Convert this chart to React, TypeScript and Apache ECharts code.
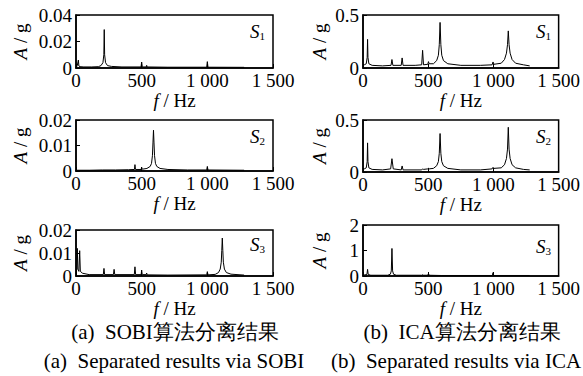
import React, { useEffect, useRef } from "react";
import * as echarts from "echarts";

// ---- data: [frequency Hz, amplitude g] ----
const sobiS1: number[][] = [
  [0, 0.0005], [5, 0.001], [10, 0.002], [18, 0.006], [22, 0.0015], [30, 0.001], [60, 0.0008], [120, 0.0008],
  [170, 0.001], [190, 0.0018], [205, 0.004], [212, 0.01], [215, 0.029], [218, 0.01], [225, 0.004], [240, 0.0018],
  [270, 0.0012], [350, 0.0008], [495, 0.0008], [500, 0.0045], [505, 0.0008], [535, 0.0008], [538, 0.002],
  [541, 0.0008], [700, 0.0006], [995, 0.0006], [1000, 0.0048], [1005, 0.0006], [1280, 0.0005],
];
const sobiS2: number[][] = [
  [0, 0.0003], [100, 0.0003], [200, 0.0004], [300, 0.0004], [400, 0.0005], [445, 0.0006], [449, 0.0025],
  [453, 0.0006], [496, 0.0006], [500, 0.0015], [504, 0.0007], [540, 0.001], [565, 0.0018], [575, 0.003],
  [582, 0.006], [586, 0.011], [590, 0.016], [594, 0.011], [598, 0.006], [605, 0.003], [615, 0.0018],
  [640, 0.001], [700, 0.0006], [850, 0.0004], [995, 0.0004], [1000, 0.0018], [1005, 0.0004], [1280, 0.0003],
];
const sobiS3: number[][] = [
  [0, 0.001], [6, 0.003], [10, 0.012], [14, 0.003], [22, 0.002], [28, 0.011], [33, 0.002], [50, 0.0012],
  [100, 0.0006], [208, 0.0006], [213, 0.0033], [218, 0.0006], [285, 0.0006], [290, 0.0029], [295, 0.0006],
  [444, 0.0006], [449, 0.004], [454, 0.0006], [496, 0.0006], [500, 0.0026], [504, 0.0006], [535, 0.0006],
  [538, 0.0013], [541, 0.0005], [700, 0.0004], [995, 0.0005], [1000, 0.0019], [1005, 0.0005], [1060, 0.0007],
  [1085, 0.0015], [1098, 0.003], [1106, 0.006], [1110, 0.011], [1114, 0.0165], [1118, 0.011], [1122, 0.006],
  [1130, 0.003], [1145, 0.0015], [1180, 0.0008], [1280, 0.0004],
];
const icaS1: number[][] = [
  [0, 0.02], [10, 0.03], [25, 0.04], [32, 0.1], [35, 0.27], [38, 0.1], [45, 0.04], [70, 0.025], [150, 0.02],
  [215, 0.025], [222, 0.08], [229, 0.025], [293, 0.025], [300, 0.095], [307, 0.025], [400, 0.025], [450, 0.03],
  [457, 0.167], [464, 0.03], [497, 0.035], [502, 0.06], [507, 0.04], [540, 0.04], [565, 0.07], [578, 0.12],
  [585, 0.22], [591, 0.43], [597, 0.22], [604, 0.12], [617, 0.07], [650, 0.04], [750, 0.025], [900, 0.025],
  [990, 0.03], [997, 0.057], [1004, 0.035], [1060, 0.045], [1085, 0.08], [1100, 0.14], [1108, 0.22],
  [1114, 0.35], [1120, 0.22], [1128, 0.14], [1143, 0.08], [1170, 0.045], [1230, 0.03], [1278, 0.02],
];
const icaS2: number[][] = [
  [0, 0.02], [10, 0.03], [25, 0.04], [32, 0.1], [35, 0.28], [38, 0.1], [45, 0.04], [70, 0.025], [150, 0.02],
  [212, 0.03], [222, 0.128], [232, 0.03], [293, 0.02], [300, 0.058], [307, 0.02], [450, 0.02], [457, 0.03],
  [464, 0.025], [497, 0.03], [502, 0.035], [507, 0.03], [540, 0.035], [565, 0.06], [578, 0.1], [585, 0.18],
  [591, 0.37], [597, 0.18], [604, 0.1], [617, 0.06], [650, 0.035], [750, 0.02], [900, 0.02], [990, 0.03],
  [997, 0.045], [1004, 0.035], [1060, 0.04], [1085, 0.07], [1100, 0.13], [1108, 0.22], [1114, 0.43],
  [1120, 0.22], [1128, 0.13], [1143, 0.07], [1170, 0.04], [1230, 0.025], [1278, 0.02],
];
const icaS3: number[][] = [
  [0, 0.03], [30, 0.06], [35, 0.26], [40, 0.06], [60, 0.03], [190, 0.03], [210, 0.07], [217, 0.2], [222, 1.08],
  [227, 0.2], [234, 0.07], [255, 0.03], [450, 0.03], [455, 0.05], [460, 0.03], [497, 0.03], [502, 0.1],
  [507, 0.03], [600, 0.02], [992, 0.02], [997, 0.13], [1002, 0.02], [1278, 0.02],
];

const sobiSeries = [sobiS1, sobiS2, sobiS3];
const icaSeries = [icaS1, icaS2, icaS3];
const sobiYMax = [0.04, 0.02, 0.02];
const sobiYInterval = [0.02, 0.01, 0.01];
const icaYMax = [0.5, 0.5, 2];
const icaYInterval = [0.5, 0.5, 1];
const xMax = 1500;
const xInterval = 500;
const sourceLabels = ["1", "2", "3"];
const captionZh = ["(a)  SOBI算法分离结果", "(b)  ICA算法分离结果"];
const captionEn = ["(a)  Separated results via SOBI", "(b)  Separated results via ICA"];

const FONT = "Liberation Serif, Times New Roman, Tinos, DejaVu Serif, serif";

export default function App() {
  const ref = useRef<HTMLDivElement>(null);
  useEffect(() => {
    if (!ref.current) return;
    const chart = echarts.init(ref.current, null, { renderer: "svg" });

    const leftRows = [
      { top: 15, height: 53 },
      { top: 120, height: 51 },
      { top: 230, height: 46 },
    ];
    const rightRows = [
      { top: 15, height: 53 },
      { top: 120, height: 52 },
      { top: 225, height: 51 },
    ];
    const panels: any[] = [];
    for (let i = 0; i < 3; i++) {
      panels.push({ left: 76, width: 197, ...leftRows[i], data: sobiSeries[i], yMax: sobiYMax[i], yInt: sobiYInterval[i], yGap: 46, sx: 250, sy: [22, 127, 235][i], s: sourceLabels[i] });
    }
    for (let i = 0; i < 3; i++) {
      panels.push({ left: 363, width: 198, ...rightRows[i], data: icaSeries[i], yMax: icaYMax[i], yInt: icaYInterval[i], yGap: 34, sx: 536, sy: [22, 127, 237][i], s: sourceLabels[i] });
    }

    const fmtX = (v: number) => {
      if (v >= 1000) {
        const th = Math.floor(v / 1000);
        const rest = String(v % 1000).padStart(3, "0");
        return th + " " + rest;
      }
      return String(v);
    };

    const labelStyle = { fontFamily: FONT, fontSize: 19, color: "#000" };
    const capStyle = { fontFamily: FONT, fontSize: 21, fill: "#000", align: "center", verticalAlign: "middle" };

    const option: any = {
      animation: false,
      textStyle: { fontFamily: FONT },
      grid: panels.map((p) => ({
        left: p.left,
        top: p.top,
        width: p.width,
        height: p.height,
        show: true,
        borderColor: "#000",
        borderWidth: 1.5,
        containLabel: false,
      })),
      xAxis: panels.map((p, i) => ({
        type: "value",
        gridIndex: i,
        min: 0,
        max: xMax,
        interval: xInterval,
        splitLine: { show: false },
        axisLine: { show: true, lineStyle: { color: "#000", width: 1.5 } },
        axisTick: { show: true, inside: true, length: 4, lineStyle: { color: "#000" } },
        axisLabel: { ...labelStyle, margin: 3, formatter: fmtX, showMinLabel: true, showMaxLabel: true },
        name: "{i|f} / Hz",
        nameLocation: "middle",
        nameGap: 20,
        nameTextStyle: {
          ...labelStyle,
          rich: {
            i: { fontFamily: FONT, fontSize: 19, fontStyle: "italic", color: "#000" },
          },
        },
      })),
      yAxis: panels.map((p, i) => ({
        type: "value",
        gridIndex: i,
        min: 0,
        max: p.yMax,
        interval: p.yInt,
        splitLine: { show: false },
        axisLine: { show: true, lineStyle: { color: "#000", width: 1.5 } },
        axisTick: { show: true, inside: true, length: 4, lineStyle: { color: "#000" } },
        axisLabel: { ...labelStyle, margin: 4, formatter: (v: number) => String(+v.toFixed(4)) },
        name: "{i|A} / g",
        nameLocation: "middle",
        nameGap: p.yGap,
        nameTextStyle: {
          ...labelStyle,
          rich: {
            i: { fontFamily: FONT, fontSize: 19, fontStyle: "italic", color: "#000" },
          },
        },
      })),
      series: panels.map((p, i) => ({
        type: "line",
        xAxisIndex: i,
        yAxisIndex: i,
        data: p.data,
        showSymbol: false,
        symbol: "none",
        lineStyle: { color: "#000", width: 1 },
      })),
      graphic: [
        ...panels.map((p) => ({
          type: "text",
          x: p.sx,
          y: p.sy,
          style: {
            text: "{s|S}{n|" + p.s + "}",
            rich: {
              s: { fontFamily: FONT, fontSize: 19, fontStyle: "italic", fill: "#000" },
              n: { fontFamily: FONT, fontSize: 11, fill: "#000", padding: [8, 0, 0, 0] },
            },
          },
        })),
        { type: "text", x: 175, y: 332, style: { text: captionZh[0], ...capStyle } },
        { type: "text", x: 462, y: 332, style: { text: captionZh[1], ...capStyle } },
        { type: "text", x: 174, y: 361, style: { text: captionEn[0], ...capStyle } },
        { type: "text", x: 456, y: 361, style: { text: captionEn[1], ...capStyle } },
      ],
    };
    chart.setOption(option);
    return () => chart.dispose();
  }, []);
  return <div ref={ref} style={{ position: "fixed", left: 0, top: 0, width: 583, height: 376, background: "#fff" }} />;
}
